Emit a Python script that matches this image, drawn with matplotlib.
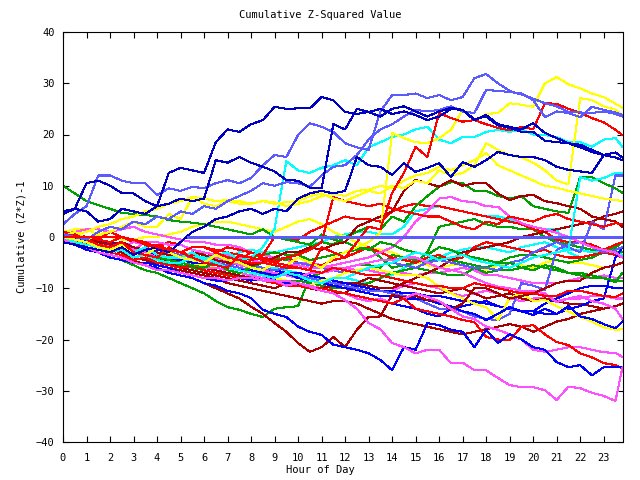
import matplotlib
matplotlib.use("Agg")
import matplotlib.pyplot as plt

# sample times: every half hour, last point at 23:48
hours = [i * 0.5 for i in range(48)] + [23.8]
x_ticks = list(range(0, 24))
y_ticks = [-40, -30, -20, -10, 0, 10, 20, 30, 40]

zero_hours = [5.3, 23.8]
zero_vals = [0, 0]

u1 = [4.5,5.5, 5,3, 3.5,5.5, 5,4.5, 6,12.5, 13.5,13, 12.5,18.5, 21,20.5, 22,22.8, 25.4,25, 25.1,25.1, 27.3,26.7, 24.4,24, 24.4,23.5, 25,25.5, 24.5,23.5, 24.5,25.2, 24.8,23, 23.5,21.8, 21.3,20.5, 20.5,18.8, 18.5,18.3, 17.5,16.6, 16,15.5, 15]
lba = [2.5,4.5, 6,12, 12,11, 10.5,10.5, 8.2,9.5, 9,9.8, 9.5,10.5, 11.1,10.5, 11.5,14, 16,15.6, 19.9,22.2, 21.5,20.5, 18.3,17.5, 17,24.5, 27.7,27.7, 28,27.1, 27.7,26.7, 27.3,31, 31.8,30, 28.5,27.8, 27,26.1, 25.5,24.4, 24.3,24.2, 24.5,24, 23.5]
lbb = [0.5,0, -0.5,1, 2,1.5, 3,2.5, 4,3.5, 5,4.5, 6,5.5, 7,8, 9,10.5, 10,10.7, 10.5,9.8, 12,13.7, 14,16, 19,21, 22,23.5, 24.8,24.5, 24.8,25.5, 24.5,24.2, 28.7,28.5, 28.3,28, 26.7,23.4, 24.5,24.2, 23.4,25.4, 24.8,24.3, 23.8]
u2 = [5,5.5, 10.5,11, 10,8.6, 8.5,7, 6,6.5, 7.5,7, 7.5,15, 14.5,15.6, 14.5,13.7, 12.8,11.1, 11,9.6, 9.5,22, 21,25, 24.4,25, 24,24.5, 23.8,22.8, 23.5,25, 24.8,22.8, 23.8,22, 21.5,21, 22.2,20.3, 19.3,18.3, 18,17, 16,16.5, 15.5]
u3 = [-1,-1.5, -2,-2.5, -3,-2, -3.5,-2.5, -2,-3, -1,1, 2,3.5, 4,5, 5.5,4.5, 5.5,5, 7.5,8.5, 9,8.5, 9,15.6, 14,13.7, 12.1,14.4, 12.7,13.5, 14.4,11.7, 14.6,13.7, 15,16.6, 16,15.6, 15.6,15, 13.7,13.1, 12.8,12.5, 16,15.5, 15]
r1 = [0,0.5, -0.5,-1.5, -2,-1, -3,-3.5, -4,-2, -3,-4, -5,-5.5, -6,-3.5, -4,-4.5, -5,-5.5, -6,-6.5, -2,-3, -4,-1, 2,1.5, 8.6,12.5, 17.6,15.6, 24.2,23.2, 22.5,22.8, 22,21.3, 20.8,21.5, 21,26.1, 26,25, 24.2,23.2, 22.4,20.9, 19.9]
y1 = [0,-0.5, -1,-2, -2.5,-1.5, -3,-3.5, -2,-3, -4,-4.5, -5,-3.5, -4.5,-5, -6,-6.5, -5,-5.5, -4,-5, -6,-4, -3,-2, -1,0.8, 20.3,19.3, 18.5,18.3, 19.3,20.9, 24.8,22.8, 24,24.2, 26.1,25.8, 25.4,30, 31.2,29.8, 29,28, 27.3,26, 25.2]
y2 = [0,1, -0.5,0.5, 1,2, 3,2, 2,4.5, 3.5,7.8, 6.5,6, 7,6.5, 6.5,7, 6.5,6.8, 7,8, 8.5,7.5, 7,8, 9,8.5, 10,9.5, 11,10.5, 13,12, 12.5,14, 18.3,17, 16,15.5, 14.5,13, 11,10.3, 27.1,26.7, 25.5,24.8, 23.8]
y5 = [0,0.5, 1,2, 2.5,3.5, 4,5, 5.5,6.5, 7,7.8, 7.5,7, 7.2,7, 6.5,7, 6.8,6, 6.5,7, 8,8.5, 8,9, 9.2,10, 9.5,11, 12,12.5, 13.7,13, 14,15, 16.4,14, 13,12, 11,10, 9.6,9, 8.5,8, 7.5,7.2, 7]
c1 = [0,-0.5, -1,-1.5, -2,-2.5, -3,-2, -3.5,-4, -4,-3, -4.5,-3.5, -3,-4.5, -4,-2, 1.6,14.8, 13,12.5, 13.5,14, 15,14, 17.5,18.5, 19.5,20, 21,21.5, 19,18.3, 19.5,19.5, 20.5,20.9, 20.5,21, 20,19.9, 19.5,18.5, 18.5,17.6, 19,19.3, 17.6]
c2 = [0,-1, -1.5,-2, -3,-2.5, -4,-3.5, -4.5,-5, -5,-4, -4,-5, -6,-6.5, -7,-7.5, -8,-7, -7.5,-8.5, -9,-8, -8,-7, -6,-5.5, -5,-4, -3,-3.5, -4.5,-4, -3.5,-4.5, -5,-5.5, -6,-5, -4,-3.5, -3,-2.5, 11.7,11, 11.5,12.5, 12.5]
g1 = [10,8.5, 7,6.2, 5.5,4.7, 4.5,4.3, 4,3.3, 3,2.8, 2.5,2, 1.5,1, 0.5,1.5, 0,-0.5, -1,-1.5, 0.5,-0.5, -1,-2, -2.5,-1, -1.5,-2.5, -3,-3.5, -2,-2.5, -3.5,-4, -4.5,-5, -5,-6, -6.5,-5.5, -6,-7, -7.5,-8, -8,-8.5, -8.5]
g2 = [0,-0.5, -1,-1.5, -2.5,-2, -3,-3.5, -4,-4.5, -5,-5.5, -6,-5, -6.5,-7, -6,-5, -4,-4.5, -3,-2, -1,-1.5, 0,1, 2,1.5, 4,3, 6,8, 9.8,10.7, 10.5,9, 9,8, 7.5,8, 6,5.5, 5,4.7, 11.7,11.7, 10.5,9.5, 8.6]
dr1 = [0.5,0, 0,-1, -1.5,-1, -2,-2.5, -3,-3.5, -4,-3, -3.5,-4.5, -5,-4.5, -5.5,-5, -4,-3, -3,-2, -2.5,-1.5, -1,2, 3,4, 5,9, 11.1,10.5, 9.8,11.1, 10,10.5, 10.5,8.5, 7.2,8, 8.2,7, 6.6,6, 5.5,4, 3.5,3, 2]
r3 = [1,0.5, 0,-0.5, -1,0, -0.5,-1.5, -2,-2.5, -3,-2, -2,-2.5, -3,-3.5, -4.5,-4, -5,-4, -3.5,-2.5, -1,7.8, 7,6.5, 6,6.5, 5.5,5, 4.5,4, 4,3, 2,1.5, 3,2.5, 4,3.5, 3,4, 4.5,3.5, 3,2.5, 2,2.7, 2.5]
r4 = [0,-0.5, -1,-2, -2.5,-2, -3,-2, -1.5,-2.5, -3,-3.5, -4,-3, -2,-2.5, -3,-4, -4.5,-4, -5,-5.5, -5.5,-4.5, -4,-3, -2,-3, -4,-4.5, -5,-4, -3.5,-4.5, -4,-2, -1,-1.5, -2,-2.5, -3,-2.5, -3.5,-4, -4,-3.5, -3,-3.5, -4]
dr3 = [-0.5,-1, -1.5,-2, -2,-2.5, -3,-3.5, -4,-5, -6,-6.5, -7,-7.5, -8,-8.5, -9,-9.5, -10,-9, -9,-10, -10.5,-11, -11,-9, -8,-8.5, -9,-9.5, -10,-10.5, -11,-10.5, -10,-11, -12,-11.5, -11,-12, -12.5,-12, -12.5,-13, -13,-13.5, -14,-13.5, -13]
m1 = [-0.5,-1.5, -2,-3, -3.5,-4, -5,-5.5, -6.5,-6.5, -7,-7.5, -8,-8, -8.5,-8, -8,-8.5, -8.5,-9.5, -9,-9.7, -10.5,-11, -12.3,-14, -16.8,-18, -20.7,-21.5, -22.7,-22, -22,-24.6, -24.5,-26, -26,-27.5, -28.9,-29.3, -29.3,-29.9, -31.8,-29.2, -29.5,-30.4, -31,-32, -25.4]
db2 = [-0.5,-1.5, -2.5,-3, -4,-4.5, -5,-5.5, -6,-7, -7.5,-8, -9,-9.5, -10.5,-11, -11.9,-14.2, -15,-15.6, -17.5,-18.5, -19.1,-21, -21.5,-22, -22.7,-24, -26,-21.5, -22,-16.8, -17.2,-18.1, -18.5,-21.5, -18.1,-20.7, -19,-20, -21.5,-22, -24.4,-25.4, -25,-27, -25.4,-25.4, -25.4]
r2 = [0,-0.5, -1.5,-2, -3,-3.5, -4.5,-4, -5,-5.5, -6,-5.5, -6.5,-7, -7.5,-8, -8,-8.5, -9,-9.5, -9.5,-10, -10,-10.5, -11,-11.5, -12,-12.5, -13,-12, -14,-14.5, -15,-15.5, -16.2,-16.6, -19.5,-20, -20.1,-17.5, -17.2,-19, -20.5,-21.1, -22.7,-23.5, -24.6,-25, -25.6]
dr2 = [-0.5,-1, -2,-3, -3.5,-4, -4.5,-5.5, -6,-7, -7.5,-8, -9,-10, -11,-12, -13.6,-15, -16.8,-18.5, -20.7,-22.4, -21.5,-19.5, -21.5,-18.1, -15.6,-15.5, -11.3,-11.8, -11.5,-12.3, -12.5,-14.2, -13,-10, -10,-11, -12,-11.5, -11,-10, -9,-8.5, -8.5,-7, -6,-5.5, -5]
m2 = [0,-0.5, -1,-2, -3,-2.5, -2.5,-3, -4,-4.5, -5,-5.5, -6,-6, -6.5,-7, -7.5,-8, -8.5,-8.5, -9,-9.5, -10,-10.5, -11,-12, -12.5,-12, -13,-12, -11,-11.7, -12.5,-14, -15.5,-16, -17.5,-18.1, -19,-20, -22,-22.4, -22,-21.5, -21.5,-22, -22.5,-22.6, -23.4]
m3 = [0.5,0, -0.5,-1.5, -2.5,-2, -1,-1.5, -2,-3, -4,-4.5, -5,-4, -4.5,-5.5, -6,-6.5, -7,-7.5, -8,-7, -7,-6.5, -6,-5.5, -5,-4.5, -4.5,-4, -4,-5, -6,-6.4, -7,-8, -9,-9.7, -10,-10.5, -10.5,-11, -12.7,-12, -11.5,-12.5, -13,-14, -16]
m4 = [0,-0.5, -1,-1.5, -1.5,-2, -2.5,-1, -1,-1.5, -1.5,-2.5, -3,-3.5, -3.5,-4, -4.5,-5, -5,-5.5, -5.5,-6, -6,-5.5, -5,-4.5, -4,-3, -2,0, 3,5, 7.5,7.8, 7,6.8, 6,5.9, 4,2.7, 2,1.5, 0.8,0, -1,-2, -2.5,-3, -4]
y3 = [0,-0.5, -1,-1.5, -2,-2.5, -3,-3.5, -4,-4.5, -5,-5.5, -5.5,-6, -6.5,-7, -7,-7.5, -8,-8.5, -9,-9.5, -8.5,-8, -7,-6.5, -6,-6.5, -7,-7.5, -7.4,-8, -9.7,-11, -12,-13, -13.7,-16.2, -11.9,-11, -12.5,-12.3, -13.5,-14.5, -15.6,-16.5, -17.6,-18.1, -18]
b3 = [0.5,0, -1,-1.5, -2,-2.5, -3,-2.5, -3.5,-4, -4.5,-5, -5,-5.5, -6,-6.5, -6.5,-7, -7.5,-7, -8,-8.5, -9,-9.5, -10,-10.5, -11,-11.5, -11.5,-12, -12,-12.3, -13,-13.5, -14.5,-15, -16.2,-15, -13.7,-14.5, -15.2,-14, -15,-13.5, -15.5,-16, -17,-17.8, -16.5]
g3 = [0,-1, -1.5,-2, -3,-3.5, -4,-4.5, -5,-5, -5.5,-6, -6.5,-7, -7,-8, -7.5,-7, -8,-8.5, -8.5,-9, -9.5,-10, -10,-9.5, -9,-8, -7,-6.5, -6,-6.5, -7,-7.5, -7.5,-6, -7,-6.5, -6.5,-6, -5.5,-6, -6.5,-7, -7,-7.5, -8,-8.8, -7]
g4 = [-0.5,-1, -2,-2.5, -3,-2, -2.5,-3, -3.5,-4, -4,-3.5, -3,-3.5, -3.5,-4.5, -4,-3.5, -3,-3.5, -3.5,-4.5, -4,-3.5, -3,-2.5, -2,-4, -6,-5.5, -5,-3, 2,2.5, 3,3.5, 2.5,2, 2,1.5, 1.5,0, -1,-1.5, -2,-2.5, -2.5,-2.9, -3]
g5 = [-0.5,-1.5, -2.5,-3, -4,-4.5, -5.5,-6.5, -7,-8, -9,-10, -11,-12.5, -13.7,-14.2, -15,-15.6, -14,-13.7, -13.5,-7.8, -7,-6.5, -6,-5.5, -5.5,-6, -3.5,-4, -4.5,-5, -4,-4.5, -5,-5.5, -6,-5, -4,-3.5, -3.5,-4, -4.5,-5, -4.5,-4, -3,-2, -1]
r5 = [0,0, 0,0, 0,0, -0.5,-1, -2,-2.5, -3,-2, -2,-3, -4,-4.5, -5,-5, -5.5,-6, -6,-6.5, -7,-6, -6.5,-7, -7.5,-7.5, -8,-8.5, -9,-9.5, -9.5,-10, -10,-9, -9.5,-10, -10.5,-11, -11,-11.5, -11.5,-10.5, -10.5,-11, -11.5,-11.7, -11]
c3 = [1,0.5, 0,-1, -1.5,-2, -2,-2.5, -3,-3.5, -4,-5, -5.5,-6, -6.5,-7, -7,-6.5, -6,-6.5, -7,-7.5, -8.5,-8, -8,-8.5, -9,-8, -7.5,-6, -5,-4.5, -4,-3, -2.5,-2, -2,-2.5, -3,-2, -1.5,-1, -2,-2.5, -2.5,-3, -3,-3.2, -3]
dr4 = [0,-0.5, -1,-1.5, -1.5,-2, -3,-3, -3.5,-4, -5,-5.5, -6,-6.5, -7,-7.5, -8,-8, -8.5,-9, -9.5,-10, -10,-9.5, -9,-9, -9.5,-10, -10,-9, -8,-7, -6,-4.5, -3,-2.5, -2,-1.5, -1,0, 0.5,1, 1.5,2, 2.5,3, 4,4.5, 5]
r6 = [0.5,0, 0,-0.5, 1,0, -1,-1.5, -2,-1, -1.5,-2.5, -3,-3.5, -4,-4.5, -3,-3.5, 0,-0.5, -0.5,1, 2,3, 4,3.5, 3.5,3, 5,6, 6.5,6, 6,5.5, 5,4.5, 4,3.5, 3,2.5, 1.5,1, -0.5,-1, -1,-1.5, -2.5,-1.5, -1]
y4 = [1,1.5, 1.5,0.5, 0,-0.5, -0.5,0, 0,0.5, 1,2, 2.5,3, 3,2.5, 2,1.5, 1,2, 3,3.5, 2.5,1, 0,-1, -2,-2.5, -3,-4, -5,-5.5, -6,-5.5, -5.5,-6, -6.5,-5.5, -5,-5.5, -6,-5, -4.5,-5, -5,-5.5, -6,-5.5, -5]
m5 = [0.5,0, -0.5,-1.5, -2.5,-2, -1,-1.5, -2,-3, -4,-4.5, -5,-5, -4.5,-5, -6,-6.5, -7,-7.5, -8,-8.5, -9,-9, -9,-9.5, -10,-10.5, -10.5,-9.5, -9,-9.5, -10,-11, -11.5,-11, -10.5,-11, -12,-12.5, -12,-12, -12.5,-12, -12,-11.5, -11.5,-12, -12]
b4 = [-0.5,-1, -2,-3, -4,-4.5, -5,-5, -5.5,-6, -7,-7.5, -8,-8.5, -8.5,-8, -8.5,-8, -8,-9, -9.5,-10, -10,-10.5, -11,-11.5, -12,-12.5, -13,-13.5, -14,-15, -15.5,-14, -13.5,-13, -12.5,-13.5, -14,-14.5, -14.5,-13, -12,-11, -10,-9.5, -9.5,-10, -10]
dr5 = [0,-0.5, -1.5,-2, -2.5,-3, -4,-4.5, -5.5,-6, -6.5,-7, -7.5,-8, -9,-9.5, -10,-10.5, -11,-11.5, -12,-12.5, -13,-12.5, -12.5,-13, -14,-15, -16,-16.5, -17,-17.5, -18,-18.5, -19,-18.5, -18,-17.5, -17,-17.5, -18.5,-17.5, -16.5,-16, -15,-14.5, -14,-13.5, -13]
lb3 = [0,-0.5, -1,-1.5, -2,-2.5, -2.5,-3, -3.5,-4, -4.5,-5, -5,-5.5, -5.5,-6, -6.5,-7, -7,-7.5, -7.5,-8, -8.5,-9, -9.5,-10, -10.5,-10.5, -11,-11.5, -12,-13, -14,-14, -14.5,-15.5, -16,-16.2, -15,-9, -9.5,-10.3, -2.5,-1.5, -1,-2, -3,-2.5, -2]
lb4 = [0,-0.5, -1,-1.5, -2,-1.5, -2.5,-3, -3.5,-3, -3.5,-4, -4.5,-5, -5.5,-5, -5.5,-6, -6.5,-6, -5,-5.5, -6,-6.5, -7,-6.5, -6,-5.5, -5,-5.5, -6,-5, -4.5,-5, -5.5,-6, -6,-6.5, -5,-4.5, -3,-2, -1,-2, -3,3, 1.5,12, 12]
b5 = [0,-0.5, -0.5,-1, -1,-1.5, -2,-2.5, -2.5,-3, -3.5,-4, -4,-4.5, -5,-5.5, -6,-6.5, -6.5,-7, -7,-7.5, -8,-8.5, -9,-9.5, -10,-10.5, -10.5,-11, -11,-11.5, -11.5,-12, -12.5,-12.5, -13,-13.5, -14,-14.5, -14.5,-15, -15,-14, -13.5,-12.5, -12,-4, -2]
c4 = [0,-0.5, -1.5,-1, -2,-2.5, -3,-3.5, -4,-4, -4.5,-5, -5,-4.5, -4,-3, -2.5,-3, -3,-2.5, -2,-1.5, -1,0, 0.5,1, 1,0.5, 0.5,2, 5,5.5, 6,5.5, 5,4.5, 4,4, 3.5,2.5, 2,1.5, 1.5,-3, -4,-3.5, -3,-3.2, -3.5]
m6 = [0.5,1, 1.5,1.5, 1,1.5, 2,1, 0.5,0, -0.5,-1, -1,-1.5, -1.5,-2, -3,-3.5, -4,-4.5, -5,-5, -5.5,-6, -6,-6.5, -6.5,-7, -7,-7, -7.5,-7, -7,-6.5, -6,-6.5, -7.5,-7.5, -8,-8.5, -9,-9, -9,-8.5, -8,-8, -7.5,-8, -8]

DB = '#0000c0'
B = '#0000ff'
LB = '#5a5aff'
R = '#ff0000'
DR = '#a80000'
G = '#00a000'
C = '#00ffff'
Y = '#ffff00'
M = '#ff50ff'

series = [
    (c3, C), (c4, C), (y4, Y), (m6, M), (m5, M), (g3, G), (g4, G), (g5, G),
    (r4, R), (r6, R), (dr3, DR), (dr4, DR), (dr5, DR), (b4, B), (b5, B), (lb3, LB), (lb4, LB),
    (m3, M), (m4, M), (y3, Y), (b3, B), (dr2, DR), (m2, M), (r2, R), (db2, B), (m1, M),
    (g1, G), (g2, G), (dr1, DR), (r3, R), (c1, C), (c2, C), (y5, Y), (y2, Y), (y1, Y), (r1, R),
    (lbb, LB), (lba, LB), (u3, DB), (u2, DB), (u1, DB), (r5, R),
]

plt.rcParams['font.family'] = ['DejaVu Sans Mono']
fig = plt.figure(figsize=(6.4, 4.8), dpi=100)
ax = fig.add_axes([63 / 640, 38 / 480, 559.5 / 640, 410 / 480])

for vals, col in series:
    assert len(vals) == len(hours), (len(vals), col)
    ax.plot(hours, vals, color=col, lw=0.75, antialiased=False)
ax.plot(zero_hours, zero_vals, color=LB, lw=0.75, antialiased=False)

ax.set_xlim(0, 23.8)
ax.set_ylim(-40, 40)
ax.set_xticks(x_ticks)
ax.set_yticks(y_ticks)
ax.tick_params(direction='in', top=True, right=True, length=4.5, width=0.8,
               labelsize=7.5, pad=8)
ax.tick_params(axis='y', pad=6)
for s in ax.spines.values():
    s.set_linewidth(0.8)

fig.text(0.5, 1 - 15 / 480, 'Cumulative Z-Squared Value', ha='center', va='center', fontsize=7.5)
fig.text(0.5, 1 - 470 / 480, 'Hour of Day', ha='center', va='center', fontsize=7.5)
fig.text(22 / 640, 1 - 237 / 480, 'Cumulative (Z*Z)-1', ha='center', va='center',
         rotation=90, fontsize=7.5)

fig.savefig('out.png', dpi=100)
